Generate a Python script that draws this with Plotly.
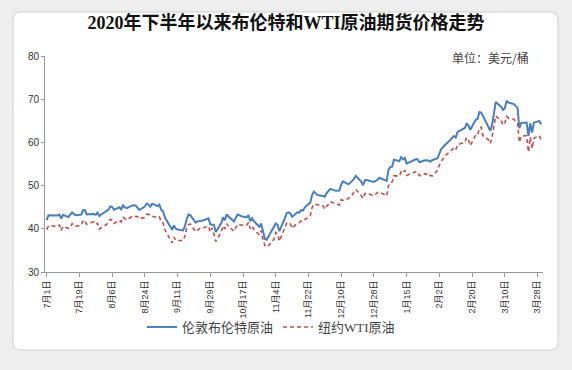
import pandas as pd
import plotly.graph_objects as go

# ---------------- data ----------------
dates = [
    # 2020-07
    "2020-07-01", "2020-07-02", "2020-07-06", "2020-07-07", "2020-07-08", "2020-07-09", "2020-07-10",
    "2020-07-13", "2020-07-14", "2020-07-15", "2020-07-16", "2020-07-17", "2020-07-20", "2020-07-21",
    "2020-07-22", "2020-07-23", "2020-07-24", "2020-07-27", "2020-07-28", "2020-07-29", "2020-07-30",
    "2020-07-31",
    # 2020-08
    "2020-08-03", "2020-08-04", "2020-08-05", "2020-08-06", "2020-08-07", "2020-08-10", "2020-08-11",
    "2020-08-12", "2020-08-13", "2020-08-14", "2020-08-17", "2020-08-18", "2020-08-19", "2020-08-20",
    "2020-08-21", "2020-08-24", "2020-08-25", "2020-08-26", "2020-08-27", "2020-08-28", "2020-08-31",
    # 2020-09
    "2020-09-01", "2020-09-02", "2020-09-03", "2020-09-04", "2020-09-08", "2020-09-09", "2020-09-10",
    "2020-09-11", "2020-09-14", "2020-09-15", "2020-09-16", "2020-09-17", "2020-09-18", "2020-09-21",
    "2020-09-22", "2020-09-23", "2020-09-24", "2020-09-25", "2020-09-28", "2020-09-29", "2020-09-30",
    # 2020-10
    "2020-10-01", "2020-10-02", "2020-10-05", "2020-10-06", "2020-10-07", "2020-10-08", "2020-10-09",
    "2020-10-12", "2020-10-13", "2020-10-14", "2020-10-15", "2020-10-16", "2020-10-19", "2020-10-20",
    "2020-10-21", "2020-10-22", "2020-10-23", "2020-10-26", "2020-10-27", "2020-10-28", "2020-10-29",
    "2020-10-30",
    # 2020-11
    "2020-11-02", "2020-11-03", "2020-11-04", "2020-11-05", "2020-11-06", "2020-11-09", "2020-11-10",
    "2020-11-11", "2020-11-12", "2020-11-13", "2020-11-16", "2020-11-17", "2020-11-18", "2020-11-19",
    "2020-11-20", "2020-11-23", "2020-11-24", "2020-11-25", "2020-11-27", "2020-11-30",
    # 2020-12
    "2020-12-01", "2020-12-02", "2020-12-03", "2020-12-04", "2020-12-07", "2020-12-08", "2020-12-09",
    "2020-12-10", "2020-12-11", "2020-12-14", "2020-12-15", "2020-12-16", "2020-12-17", "2020-12-18",
    "2020-12-21", "2020-12-22", "2020-12-23", "2020-12-24", "2020-12-28", "2020-12-29", "2020-12-30",
    "2020-12-31",
    # 2021-01
    "2021-01-04", "2021-01-05", "2021-01-06", "2021-01-07", "2021-01-08", "2021-01-11", "2021-01-12",
    "2021-01-13", "2021-01-14", "2021-01-15", "2021-01-19", "2021-01-20", "2021-01-21", "2021-01-22",
    "2021-01-25", "2021-01-26", "2021-01-27", "2021-01-28", "2021-01-29",
    # 2021-02
    "2021-02-01", "2021-02-02", "2021-02-03", "2021-02-04", "2021-02-05", "2021-02-08", "2021-02-09",
    "2021-02-10", "2021-02-11", "2021-02-12", "2021-02-16", "2021-02-17", "2021-02-18", "2021-02-19",
    "2021-02-22", "2021-02-23", "2021-02-24", "2021-02-25", "2021-02-26",
    # 2021-03
    "2021-03-01", "2021-03-02", "2021-03-03", "2021-03-04", "2021-03-05", "2021-03-08", "2021-03-09",
    "2021-03-10", "2021-03-11", "2021-03-12", "2021-03-15", "2021-03-16", "2021-03-17", "2021-03-18",
    "2021-03-19", "2021-03-22", "2021-03-23", "2021-03-24", "2021-03-25", "2021-03-26", "2021-03-29",
    "2021-03-30",
]

brent = [
    42.03, 43.14, 43.10, 43.08, 43.29, 42.35, 43.24, 42.72, 43.32, 43.79, 43.37, 43.14, 43.28, 44.32,
    44.29, 43.31, 43.34, 43.41, 43.22, 43.75, 42.94, 43.30,
    44.15, 44.43, 45.17, 45.09, 44.40, 44.99, 44.50, 45.43, 44.96, 44.80, 45.37, 45.46, 45.37, 44.90,
    44.35, 45.13, 45.86, 45.64, 45.09, 45.81, 45.28,
    45.58, 44.43, 44.07, 42.66, 39.78, 40.79, 40.06, 39.83, 39.61, 40.53, 42.22, 43.30, 43.15, 41.44,
    41.72, 41.77, 41.94, 41.92, 42.43, 41.03, 40.95,
    40.93, 39.27, 41.29, 42.65, 41.99, 43.34, 42.85, 41.72, 42.45, 43.32, 43.16, 42.93, 42.62, 43.16,
    41.73, 42.46, 41.77, 40.46, 41.20, 39.12, 37.65, 37.46,
    39.71, 40.71, 41.23, 40.93, 39.45, 42.40, 43.61, 43.80, 43.53, 42.78, 43.82, 43.75, 44.34, 44.20,
    44.96, 46.06, 47.86, 48.61, 47.80, 47.59,
    47.42, 48.25, 48.71, 49.25, 48.79, 48.84, 48.86, 50.25, 50.97, 50.29, 50.76, 51.08, 51.50, 52.26,
    50.91, 50.08, 51.20, 51.29, 50.86, 51.09, 51.34, 51.80,
    51.09, 53.60, 54.30, 54.38, 55.99, 55.66, 56.58, 56.06, 56.42, 55.10, 55.90, 56.08, 56.10, 55.41,
    55.88, 55.91, 55.81, 55.53, 55.88,
    56.35, 57.46, 58.46, 58.84, 59.34, 60.56, 61.09, 61.47, 61.14, 62.43, 63.35, 64.34, 63.93, 62.91,
    65.24, 65.37, 67.04, 66.88, 66.13,
    63.69, 62.70, 64.07, 66.74, 69.36, 68.24, 67.52, 67.90, 69.63, 69.22, 68.88, 68.39, 68.00, 63.28,
    64.53, 64.62, 61.50, 64.41, 62.30, 64.57, 64.98, 64.14,
]

wti = [
    39.82, 40.65, 40.63, 40.62, 40.90, 39.62, 40.55, 40.10, 40.29, 41.20, 40.75, 40.59, 40.81, 41.96,
    41.90, 41.07, 41.29, 41.60, 41.04, 41.27, 39.92, 40.27,
    41.01, 41.70, 42.19, 41.95, 41.22, 41.94, 41.61, 42.67, 42.24, 42.01, 42.89, 42.89, 42.93, 42.82,
    42.34, 42.62, 43.35, 43.39, 43.04, 42.97, 42.61,
    42.76, 41.51, 41.37, 39.77, 36.76, 38.05, 37.30, 37.33, 37.26, 38.28, 40.16, 40.97, 41.11, 39.31,
    39.60, 39.93, 40.31, 40.25, 40.60, 39.29, 40.22,
    38.72, 37.05, 39.22, 40.67, 39.95, 41.19, 40.60, 39.43, 40.20, 41.04, 40.96, 40.88, 40.83, 41.46,
    40.03, 40.64, 39.85, 38.56, 39.57, 37.39, 36.17, 35.79,
    36.81, 37.66, 39.15, 38.79, 37.14, 40.29, 41.36, 41.45, 41.12, 40.13, 41.34, 41.43, 41.82, 41.74,
    42.15, 43.06, 44.91, 45.71, 45.53, 45.34,
    44.55, 45.28, 45.64, 46.26, 45.76, 45.60, 45.52, 46.78, 46.57, 46.99, 47.62, 47.82, 48.36, 49.10,
    47.74, 47.02, 48.12, 48.23, 47.62, 48.00, 48.40, 48.52,
    47.62, 49.93, 50.63, 50.83, 52.24, 52.25, 53.21, 52.91, 53.57, 52.36, 52.98, 53.24, 53.13, 52.27,
    52.77, 52.61, 52.85, 52.34, 52.20,
    53.55, 54.76, 55.69, 56.23, 56.85, 57.97, 58.36, 58.68, 58.24, 59.47, 60.05, 61.14, 60.52, 59.24,
    61.70, 61.67, 63.22, 63.53, 61.50,
    60.64, 59.75, 61.28, 63.83, 66.09, 65.05, 64.01, 64.44, 66.02, 65.61, 65.39, 64.80, 64.60, 60.00,
    61.42, 61.55, 57.76, 61.18, 58.56, 60.97, 61.56, 60.55,
]

tick_dates = ["2020-07-01", "2020-07-19", "2020-08-06", "2020-08-24", "2020-09-11", "2020-09-29",
              "2020-10-17", "2020-11-04", "2020-11-22", "2020-12-10", "2020-12-28", "2021-01-15",
              "2021-02-02", "2021-02-20", "2021-03-10", "2021-03-28"]
tick_labels = [f"{pd.Timestamp(d).month}月{pd.Timestamp(d).day}日" for d in tick_dates]

series_names = ["伦敦布伦特原油", "纽约WTI原油"]
title_text = "2020年下半年以来布伦特和WTI原油期货价格走势"
unit_text = "单位：美元/桶"

# ---------------- figure ----------------
W, H = 572, 370
ML, MR, MT, MB = 45, 29, 56, 98
PW, PH = W - ML - MR, H - MT - MB


def px_to_paper(x, y):
    return (x - ML) / PW, (H - MB - y) / PH


def rounded_rect(x0, y0, x1, y1, r):
    def P(x, y):
        px, py = px_to_paper(x, y)
        return f"{px:.5f},{py:.5f}"
    return (f"M {P(x0 + r, y0)} L {P(x1 - r, y0)} Q {P(x1, y0)} {P(x1, y0 + r)} "
            f"L {P(x1, y1 - r)} Q {P(x1, y1)} {P(x1 - r, y1)} "
            f"L {P(x0 + r, y1)} Q {P(x0, y1)} {P(x0, y1 - r)} "
            f"L {P(x0, y0 + r)} Q {P(x0, y0)} {P(x0 + r, y0)} Z")


fig = go.Figure()
fig.add_trace(go.Scatter(
    x=dates, y=brent, mode="lines", name=series_names[0],
    line=dict(color="#4a7ebb", width=2),
))
fig.add_trace(go.Scatter(
    x=dates, y=wti, mode="lines", name=series_names[1],
    line=dict(color="#c0504d", width=1.6, dash="4px,3px"),
))

fig.update_layout(
    width=W, height=H,
    margin=dict(l=ML, r=MR, t=MT, b=MB, autoexpand=False),
    paper_bgcolor="#eeeeee",
    plot_bgcolor="rgba(0,0,0,0)",
    font=dict(family="Liberation Serif, Noto Sans CJK SC", color="#333"),
    title=dict(
        text=f"<b>{title_text}</b>",
        x=0.5, xanchor="center", y=1 - 23 / H, yanchor="middle",
        font=dict(size=18, family="Liberation Serif, Noto Sans CJK SC", color="#111"),
    ),
    showlegend=True,
    legend=dict(
        orientation="h",
        x=px_to_paper(142, 0)[0], xanchor="left",
        y=px_to_paper(0, 327)[1], yanchor="middle",
        font=dict(size=13, family="Liberation Serif, Noto Sans CJK SC", color="#444"),
        bgcolor="rgba(0,0,0,0)",
        itemwidth=30,
        tracegroupgap=0,
    ),
    xaxis=dict(
        type="date",
        range=["2020-06-30 02:00", "2021-03-31 00:00"],
        tickmode="array", tickvals=tick_dates, ticktext=tick_labels,
        tickangle=-90,
        tickfont=dict(size=9, family="Liberation Sans, Noto Sans CJK SC", color="#333"),
        ticks="outside", ticklen=4, tickcolor="#999",
        showline=True, linecolor="#999", linewidth=1,
        showgrid=False, zeroline=False,
    ),
    yaxis=dict(
        range=[30, 80], tickvals=[30, 40, 50, 60, 70, 80],
        tickfont=dict(size=10, family="Liberation Sans, Noto Sans CJK SC", color="#333"),
        ticks="outside", ticklen=3, tickcolor="#999",
        showline=True, linecolor="#999", linewidth=1,
        showgrid=False, zeroline=False,
    ),
    shapes=[
        dict(type="path", xref="paper", yref="paper", layer="below",
             path=rounded_rect(13, 12, 558, 350, 8),
             fillcolor="white", line=dict(color="#d0d0d0", width=1)),
    ],
    annotations=[
        dict(text=unit_text, xref="paper", yref="paper",
             x=px_to_paper(531, 0)[0], xanchor="right",
             y=px_to_paper(0, 57)[1], yanchor="middle",
             showarrow=False,
             font=dict(size=12, family="Noto Sans CJK SC", color="#444")),
    ],
)

fig.write_html("out.html", config={"displayModeBar": False},
               post_script="document.body.style.margin='0';")
